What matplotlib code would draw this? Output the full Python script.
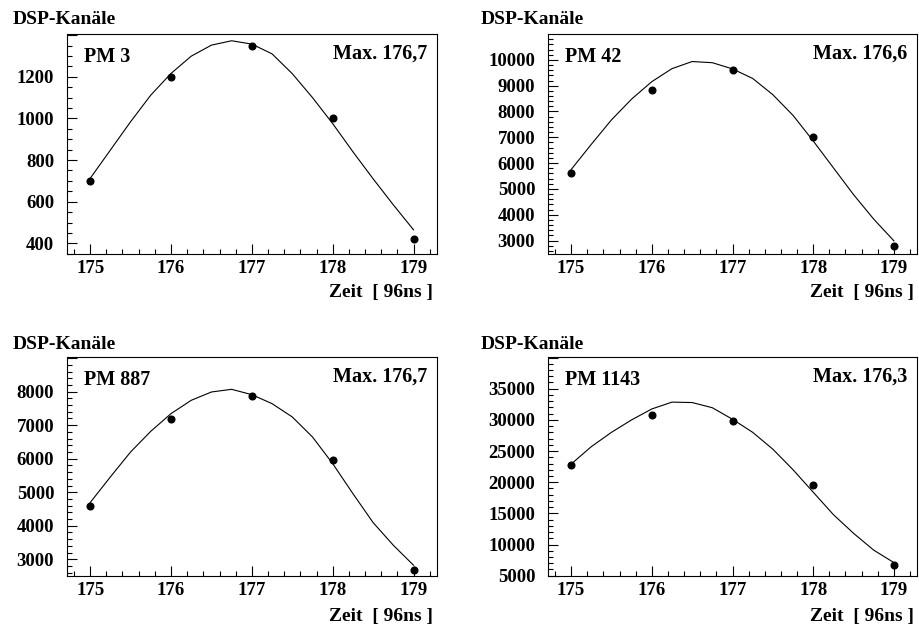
import numpy as np
import matplotlib
matplotlib.use('Agg')
import matplotlib.pyplot as plt
from matplotlib.ticker import MultipleLocator, FuncFormatter

plt.rcParams['font.family'] = 'Liberation Serif'
plt.rcParams['font.weight'] = 'bold'

# measured samples (time in 96ns units)
t = [175, 176, 177, 178, 179]
pm3 = [700, 1197, 1347, 1002, 422]
pm42 = [5620, 8844, 9597, 7026, 2792]
pm887 = [4590, 7195, 7871, 5952, 2682]
pm1143 = [22800, 30720, 29870, 19490, 6760]

# fit curves, every 0.25
t_fit = [175, 175.25, 175.5, 175.75, 176, 176.25, 176.5, 176.75, 177,
         177.25, 177.5, 177.75, 178, 178.25, 178.5, 178.75, 179]
fit3 = [712, 848, 984, 1112, 1216, 1299, 1352, 1373, 1357,
        1310, 1215, 1100, 975, 840, 710, 585, 465]
fit42 = [5750, 6727, 7675, 8481, 9156, 9660, 9935, 9890, 9650,
         9280, 8650, 7850, 6860, 5820, 4780, 3830, 2990]
fit887 = [4690, 5455, 6200, 6817, 7344, 7742, 7990, 8070, 7910,
          7642, 7245, 6648, 5853, 4958, 4093, 3417, 2821]
fit1143 = [22900, 25700, 28000, 30000, 31750, 32850, 32780, 31950, 30100,
           28000, 25300, 22000, 18400, 14800, 11800, 9100, 7100]

names = ['PM 3', 'PM 42', 'PM 887', 'PM 1143']
maxima = ['Max. 176,7', 'Max. 176,6', 'Max. 176,7', 'Max. 176,3']
ylims = [(349, 1404), (2480, 10990), (2500, 9025), (4950, 40040)]
ymajor = [200, 1000, 1000, 5000]
yminor = [50, 200, 200, 1000]
ytop_label = [1200, 10000, 8000, 35000]

data = [pm3, pm42, pm887, pm1143]
fits = [fit3, fit42, fit887, fit1143]

W, H = 919, 626
fig = plt.figure(figsize=(W / 100, H / 100), dpi=100)

rects = [[66.7, 34.3, 370.3, 219.7], [547.7, 34.3, 369.6, 219.7],
         [66.7, 357.3, 370.3, 218.7], [547.7, 357.3, 369.6, 218.7]]

for i in range(4):
    x0, y0, w, h = rects[i]
    ax = fig.add_axes([x0 / W, 1 - (y0 + h) / H, w / W, h / H])
    ax.plot(t_fit, fits[i], color='black', lw=0.8)
    ax.plot(t, data[i], 'o', color='black', ms=4.8)
    ax.set_xlim(174.71, 179.29)
    ax.set_ylim(*ylims[i])
    ax.xaxis.set_major_locator(MultipleLocator(1))
    ax.xaxis.set_minor_locator(MultipleLocator(0.2))
    ax.yaxis.set_major_locator(MultipleLocator(ymajor[i]))
    ax.yaxis.set_minor_locator(MultipleLocator(yminor[i]))
    top = ytop_label[i]
    ax.yaxis.set_major_formatter(FuncFormatter(
        lambda v, p, top=top: '%d' % round(v) if v <= top + 1 else ''))
    ax.tick_params(which='both', direction='in', top=False, right=False,
                   labelsize=13.5, width=0.8)
    ax.tick_params(which='major', length=7.5)
    ax.tick_params(which='minor', length=3.8)
    ax.tick_params(axis='x', pad=4)
    ax.tick_params(axis='y', pad=9)
    for sp in ax.spines.values():
        sp.set_linewidth(0.8)
    ax.text(0.048, 0.875, names[i], transform=ax.transAxes, fontsize=14.5,
            va='baseline', ha='left')
    ax.text(0.973, 0.888, maxima[i], transform=ax.transAxes, fontsize=14.5,
            va='baseline', ha='right')

# axis titles in ROOT style
for xl, yb in [(12.7, 24), (480.7, 24), (12.7, 349), (480.7, 349)]:
    fig.text(xl / W, 1 - yb / H, 'DSP-Kanäle', fontsize=14, ha='left',
             va='baseline')
for xr, yb in [(433, 296.7), (914, 296.7), (433, 620.7), (914, 620.7)]:
    fig.text(xr / W, 1 - yb / H, 'Zeit  [ 96ns ]', fontsize=14, ha='right',
             va='baseline')

plt.savefig('out.png', dpi=100)
